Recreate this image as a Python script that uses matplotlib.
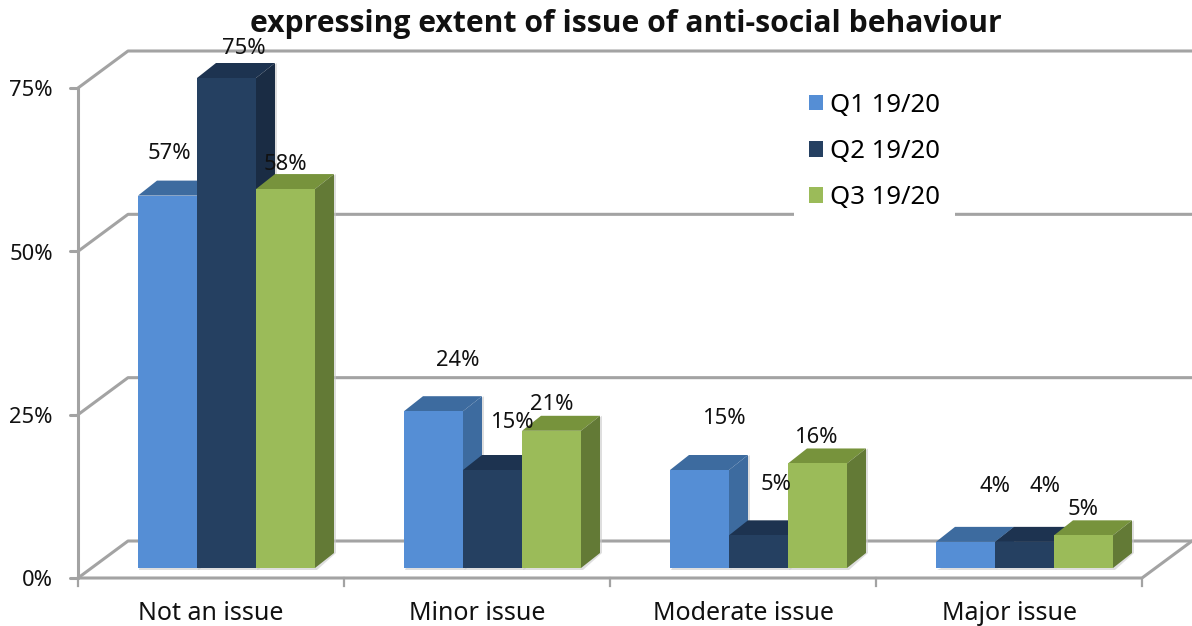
import matplotlib
matplotlib.use("Agg")
import matplotlib.pyplot as plt
from matplotlib.patches import Polygon, Patch

# Survey results, percent of respondents
categories = ["Not an issue", "Minor issue", "Moderate issue", "Major issue"]
q1_values = [57, 24, 15, 4]
q2_values = [75, 15, 5, 4]
q3_values = [58, 21, 16, 5]
series_names = ["Q1 19/20", "Q2 19/20", "Q3 19/20"]
y_ticks = [0, 25, 50, 75]
title = "expressing extent of issue of anti-social behaviour"

# Face colours for each series
front_colors = ["#558ED5", "#254061", "#9BBB59"]
top_colors = ["#3D6B9F", "#1D3350", "#77933C"]
side_colors = ["#3D6B9F", "#1A2C44", "#637A36"]
GRID = "#A3A3A3"
INK = "#111111"

W, H = 1192, 626
PX_PER_PCT = 490 / 75
PX_PER_CAT = 266
ORIGIN_X, ORIGIN_Y = 211, 578  # category 0 centre and the 0% level on the front edge

plt.rcParams["font.family"] = ["Noto Sans", "DejaVu Sans"]
NUMBER_SIZE = 15.8
CATEGORY_SIZE = 18
LEGEND_SIZE = 18.5

fig = plt.figure(figsize=(W / 100, H / 100), dpi=100, facecolor="white")
ax = fig.add_axes([0, 0, 1, 1])
ax.set_xlim(-ORIGIN_X / PX_PER_CAT, (W - ORIGIN_X) / PX_PER_CAT)
ax.set_ylim(-(H - ORIGIN_Y) / PX_PER_PCT, ORIGIN_Y / PX_PER_PCT)
ax.axis("off")


def dx(px):
    return px / PX_PER_CAT


def dy(px):
    return px / PX_PER_PCT


# Floor and wall of the 3-D frame
wall_dx, wall_dy = dx(50), dy(37)
left = dx(78 - ORIGIN_X)
right = dx(1142 - ORIGIN_X)
grid_kw = dict(color=GRID, lw=2.2, solid_capstyle="round", zorder=1)
for t in y_ticks:
    ax.plot([left, left + wall_dx, right + wall_dx],
            [t, t + wall_dy, t + wall_dy], **grid_kw)
    ax.plot([left - dx(8), left], [t, t], **grid_kw)
    ax.text(left - dx(25), t - dy(3), f"{t}%", ha="right", va="center",
            fontsize=NUMBER_SIZE, color=INK)
ax.plot([left, left], [0, y_ticks[-1]], **grid_kw)
ax.plot([left, right, right + wall_dx], [0, 0, wall_dy], **grid_kw)
for i in range(len(categories) + 1):
    x = left + i
    ax.plot([x, x], [0, dy(-8)], color=GRID, lw=1.6, zorder=1)
for i, name in enumerate(categories):
    ax.text(i, dy(-35), name, ha="center", va="center",
            fontsize=CATEGORY_SIZE, color=INK)

# Bars: front face, top and side, drawn left to right so nearer faces overlap
bar_w = dx(59)
depth_x, depth_y = dx(19), dy(15)
base = dy(10)
first_bar = dx(138 - ORIGIN_X)
all_values = [q1_values, q2_values, q3_values]
for i in range(len(categories)):
    for s, values in enumerate(all_values):
        x0 = i + first_bar + s * bar_w
        x1 = x0 + bar_w
        top = base + values[i]
        z = 3 + i + s * 0.1
        ax.add_patch(Polygon([(x0 + dx(1), base - dy(2)), (x1 + dx(2), base - dy(2)),
                              (x1 + depth_x + dx(2), base + depth_y),
                              (x1 + depth_x + dx(2), top + depth_y), (x1, top)],
                             fc="#C9C9C9", ec="none", alpha=0.6, zorder=z - 0.01))
        ax.add_patch(Polygon([(x0, top), (x1, top), (x1 + depth_x, top + depth_y),
                              (x0 + depth_x, top + depth_y)],
                             fc=top_colors[s], ec="none", zorder=z))
        ax.add_patch(Polygon([(x1, base), (x1 + depth_x, base + depth_y),
                              (x1 + depth_x, top + depth_y), (x1, top)],
                             fc=side_colors[s], ec="none", zorder=z))
        ax.add_patch(Polygon([(x0, base), (x1, base), (x1, top), (x0, top)],
                             fc=front_colors[s], ec="none", zorder=z + 0.01))

# Value labels, placed by hand relative to the bar tops (pixels right, pixels up)
label_nudges = [
    [(2, 42), (17, 30), (0, 25)],
    [(24, 51), (20, 48), (0, 26)],
    [(25, 52), (18, 51), (-1, 26)],
    [(30, 55), (20, 55), (0, 26)],
]
for i in range(len(categories)):
    for s, values in enumerate(all_values):
        x_mid = i + first_bar + (s + 0.5) * bar_w
        nx, ny = label_nudges[i][s]
        ax.text(x_mid + dx(nx), base + values[i] + dy(ny), f"{values[i]}%",
                ha="center", va="center", fontsize=NUMBER_SIZE, color=INK, zorder=20)

# Legend with a white panel that interrupts the 50% gridline
handles = [Patch(fc=c, ec="none") for c in front_colors]
leg = ax.legend(handles, series_names, loc="upper left",
                bbox_to_anchor=(794 / W, 1 - 78 / H), bbox_transform=ax.transAxes,
                frameon=True, fancybox=False, framealpha=1, edgecolor="none",
                facecolor="white", fontsize=LEGEND_SIZE, handlelength=0.54, handleheight=0.54,
                handletextpad=0.28, labelspacing=0.82, borderpad=0.58, borderaxespad=0)
leg.set_zorder(2)

ax.text(dx(626 - ORIGIN_X), dy(ORIGIN_Y - 24), title,
        ha="center", va="center", fontsize=21.7, fontweight="bold", family="Open Sans",
        color=INK, zorder=25)

fig.savefig("out.png", dpi=100, facecolor="white")
